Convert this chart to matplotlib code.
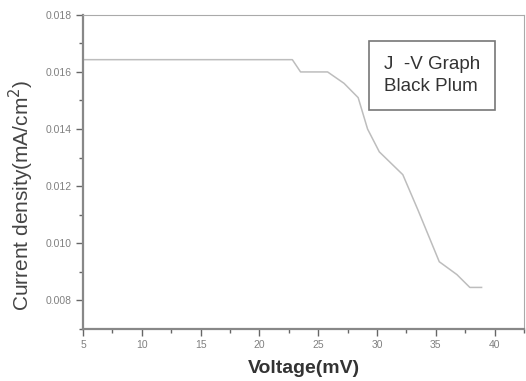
import numpy as np
from matplotlib import pyplot as plt
from matplotlib.ticker import MultipleLocator, FormatStrFormatter

plt.rcParams['font.family'] = ['Liberation Sans', 'DejaVu Sans']

# J-V curve
voltage = [5.0, 22.8, 23.5, 25.8, 27.2, 28.4, 29.2, 30.2, 31.2, 32.2, 33.5, 35.3, 36.8, 37.9, 38.9]
current = [0.01643, 0.01643, 0.01600, 0.01600, 0.01560, 0.01510, 0.01400, 0.01320, 0.01280, 0.01240, 0.01115, 0.00935, 0.00890, 0.00845, 0.00845]

fig = plt.figure(figsize=(5.26, 3.81), dpi=100)
ax = fig.add_axes([0.158, 0.137, 0.838, 0.824])

ax.plot(voltage, current, color='#bdbdbd', lw=1.1)

ax.set_xlim(5, 42.5)
ax.set_ylim(0.007, 0.018)
ax.xaxis.set_major_locator(MultipleLocator(5))
ax.xaxis.set_minor_locator(MultipleLocator(2.5))
ax.yaxis.set_major_locator(MultipleLocator(0.002))
ax.yaxis.set_minor_locator(MultipleLocator(0.001))
ax.yaxis.set_major_formatter(FormatStrFormatter('%.3f'))

ax.tick_params(which='both', direction='out', colors='#666666', labelsize=7.5, labelcolor='#808080')
ax.tick_params(which='major', length=5, width=1, pad=3)
ax.tick_params(which='minor', length=3, width=1)

for s in ['left', 'bottom']:
    ax.spines[s].set_color('#888888')
    ax.spines[s].set_linewidth(1.6)
for s in ['top', 'right']:
    ax.spines[s].set_color('#aaaaaa')
    ax.spines[s].set_linewidth(0.8)

ax.set_xlabel('Voltage(mV)', fontsize=14, fontweight='bold', color='#333333', labelpad=7)
ax.set_ylabel('Current density(mA/cm$^2$)', fontsize=15, color='#444444')
ax.yaxis.set_label_coords(-0.106, 0.425)

ax.text(0.683, 0.87, 'J  -V Graph\nBlack Plum', transform=ax.transAxes, fontsize=13.5,
        color='#333333', va='top', ha='left', linespacing=1.4,
        bbox=dict(boxstyle='square,pad=0.8', fc='white', ec='#777777', lw=1.2))

plt.savefig('out.png', dpi=100)
